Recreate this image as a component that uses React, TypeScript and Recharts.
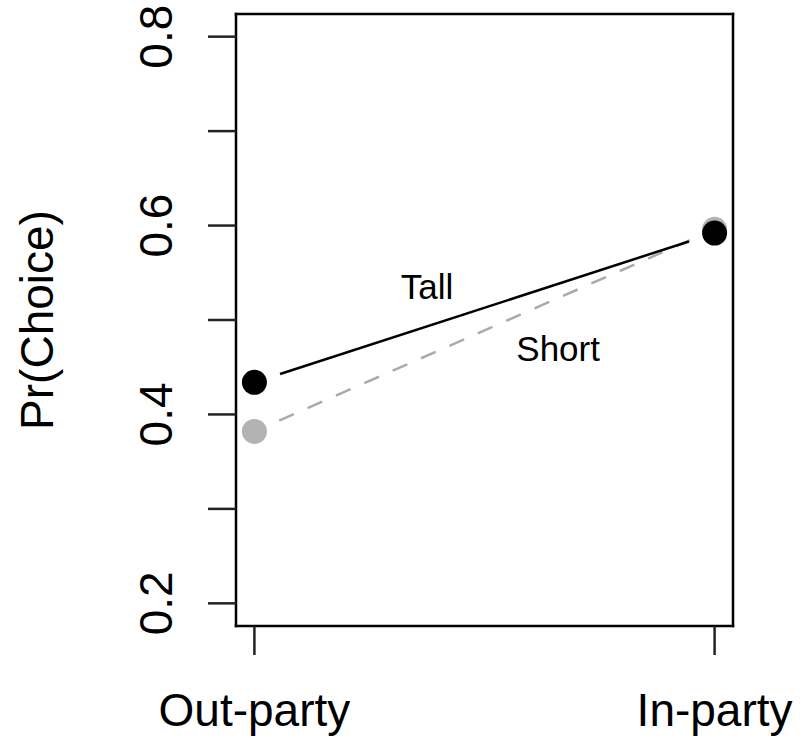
import React from "react";
import { ComposedChart, Scatter, XAxis, YAxis } from "recharts";

const categories = ["Out-party", "In-party"];
const tallValues = [0.434, 0.592];
const shortValues = [0.382, 0.596];
const yTicks = [0.2, 0.3, 0.4, 0.5, 0.6, 0.7, 0.8];
const yTickLabels = ["0.2", "0.4", "0.6", "0.8"];
const seriesNames = ["Tall", "Short"];
const seriesLabelX = [1.375, 1.66];
const seriesLabelY = [0.535, 0.47];

const rows = categories.map((c, i) => ({ x: i + 1, name: c, tall: tallValues[i], short: shortValues[i] }));
const labelRows = seriesNames.map((n, i) => ({ x: seriesLabelX[i], y: seriesLabelY[i], name: n }));

const FONT = "'Liberation Sans', Arial, Helvetica, sans-serif";
const AX = 46;
const GAP = 27;

const XTick = (props: any) => {
  const { x, y, payload } = props;
  const label = categories[Math.round(payload.value) - 1];
  return (
    <text x={x} y={y + 71} textAnchor="middle" fontFamily={FONT} fontSize={AX} fill="#000">
      {label}
    </text>
  );
};

const YTick = (props: any) => {
  const { x, y, payload } = props;
  const s = payload.value.toFixed(1);
  if (!yTickLabels.includes(s)) return <g />;
  const bx = x - 36;
  return (
    <text x={bx} y={y} transform={`rotate(-90, ${bx}, ${y})`} textAnchor="middle" fontFamily={FONT} fontSize={AX} fill="#000">
      {s}
    </text>
  );
};

const YTitle = (props: any) => {
  const vb = props.viewBox || {};
  const bx = vb.x - 63;
  const cy = vb.y + vb.height / 2;
  return (
    <text x={bx} y={cy} transform={`rotate(-90, ${bx}, ${cy})`} textAnchor="middle" fontFamily={FONT} fontSize={AX} fill="#000">
      Pr(Choice)
    </text>
  );
};

// Line between points, drawn with a gap around each point (like R's type = "b")
const gapLine = (stroke: string, dash?: string) => (props: any) => {
  const pts = (props.points || []).map((p: any) => ({ x: p.x ?? p.cx, y: p.y ?? p.cy }));
  const segs: React.ReactNode[] = [];
  for (let i = 0; i < pts.length - 1; i++) {
    const a = pts[i];
    const b = pts[i + 1];
    const dx = b.x - a.x;
    const dy = b.y - a.y;
    const len = Math.sqrt(dx * dx + dy * dy);
    if (len <= 2 * GAP) continue;
    const ux = dx / len;
    const uy = dy / len;
    segs.push(
      <line
        key={i}
        x1={a.x + ux * GAP}
        y1={a.y + uy * GAP}
        x2={b.x - ux * GAP}
        y2={b.y - uy * GAP}
        stroke={stroke}
        strokeWidth={2.5}
        strokeDasharray={dash}
        fill="none"
      />
    );
  }
  return <g>{segs}</g>;
};

const dotShape = (color: string) => (p: any) => <circle cx={p.cx} cy={p.cy} r={12.5} fill={color} />;

const labelShape = (p: any) => (
  <text x={p.cx} y={p.cy + 12.5} textAnchor="middle" fontFamily={FONT} fontSize={35} fill="#000">
    {p.payload.name}
  </text>
);

const axisLineStyle = { stroke: "#000", strokeWidth: 2.5, strokeLinecap: "square" as const };
const tickLineStyle = { stroke: "#222", strokeWidth: 2.5 };

export default function App() {
  return (
    <div style={{ position: "absolute", left: 0, top: 0, width: 807, height: 741, background: "#fff" }}>
      <ComposedChart
        width={807}
        height={741}
        data={rows}
        margin={{ top: 13, right: 73, left: 116, bottom: 25 }}
      >
        <XAxis
          dataKey="x"
          type="number"
          domain={[0.96, 2.04]}
          ticks={[1, 2]}
          allowDataOverflow
          height={90}
          tickSize={29}
          tickMargin={0}
          tick={<XTick />}
          axisLine={axisLineStyle}
          tickLine={tickLineStyle}
        />
        <XAxis
          xAxisId="top"
          orientation="top"
          dataKey="x"
          type="number"
          domain={[0.96, 2.04]}
          allowDataOverflow
          height={1}
          tick={false}
          tickLine={false}
          axisLine={axisLineStyle}
        />
        <YAxis
          type="number"
          domain={[0.176, 0.824]}
          ticks={yTicks}
          allowDataOverflow
          width={120}
          tickSize={28}
          tickMargin={0}
          tick={<YTick />}
          axisLine={axisLineStyle}
          tickLine={tickLineStyle}
          label={{ content: <YTitle /> }}
        />
        <YAxis
          yAxisId="right"
          orientation="right"
          type="number"
          domain={[0.176, 0.824]}
          allowDataOverflow
          width={1}
          tick={false}
          tickLine={false}
          axisLine={axisLineStyle}
        />
        <Scatter
          dataKey="short"
          fill="#b3b3b3"
          shape={dotShape("#b3b3b3")}
          line={gapLine("#aaaaaa", "16 15")}
          isAnimationActive={false}
        />
        <Scatter
          dataKey="tall"
          fill="#000"
          shape={dotShape("#000")}
          line={gapLine("#000")}
          isAnimationActive={false}
        />
        <Scatter data={labelRows} dataKey="y" shape={labelShape} isAnimationActive={false} />
      </ComposedChart>
    </div>
  );
}
